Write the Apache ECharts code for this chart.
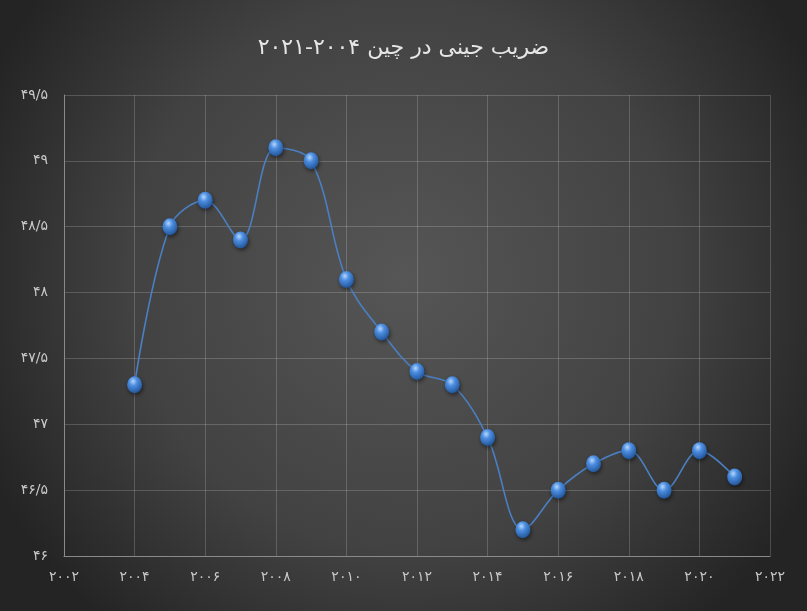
<!DOCTYPE html>
<html>
<head>
<meta charset="utf-8">
<script src="https://cdn.jsdelivr.net/npm/echarts@6/dist/echarts.min.js"></script>
<style>html,body{margin:0;padding:0;background:#333;}#c{width:807px;height:611px;}</style>
</head>
<body>
<div id="c"></div>
<script>
const titleText = 'ضریب جینی در چین ۲۰۰۴-۲۰۲۱';
const years = [2004,2005,2006,2007,2008,2009,2010,2011,2012,2013,2014,2015,2016,2017,2018,2019,2020,2021];
const gini = [47.3,48.5,48.7,48.4,49.1,49.0,48.1,47.7,47.4,47.3,46.9,46.2,46.5,46.7,46.8,46.5,46.8,46.6];
const yTicks = [46,46.5,47,47.5,48,48.5,49,49.5];

const fa = s => String(s).replace(/[0-9]/g, d => '۰۱۲۳۴۵۶۷۸۹'[d]).replace('.', '/');
const FONT = '"DejaVu Sans", "Noto Sans", sans-serif';

const chart = echarts.init(document.getElementById('c'));
chart.setOption({
  backgroundColor: {
    type: 'radial', x: 0.5, y: 0.45, r: 0.75,
    colorStops: [{offset: 0, color: '#565656'}, {offset: 0.6, color: '#424242'}, {offset: 1, color: '#242424'}]
  },
  title: {
    text: titleText, left: 'center', top: 32,
    textStyle: {color: '#e6e6e6', fontSize: 22, fontWeight: 'normal', fontFamily: FONT}
  },
  grid: {left: 64, right: 37, top: 95, bottom: 55},
  xAxis: {
    type: 'value', min: 2002, max: 2022, interval: 2,
    axisLine: {show: true, lineStyle: {color: '#8a8a8a', width: 1}},
    axisTick: {show: false},
    axisLabel: {color: '#c8c8c8', fontSize: 14, margin: 14, fontFamily: FONT, formatter: v => fa(v)},
    splitLine: {show: true, lineStyle: {color: 'rgba(255,255,255,0.18)', width: 1}}
  },
  yAxis: {
    type: 'value', min: yTicks[0], max: yTicks[yTicks.length - 1], interval: 0.5,
    axisLine: {show: true, lineStyle: {color: '#8a8a8a', width: 1}},
    axisTick: {show: false},
    axisLabel: {color: '#c8c8c8', fontSize: 14, margin: 16, fontFamily: FONT, formatter: v => fa(v)},
    splitLine: {show: true, lineStyle: {color: 'rgba(255,255,255,0.18)', width: 1}}
  },
  series: [{
    type: 'line',
    data: years.map((y, i) => [y, gini[i]]),
    smooth: 0.35,
    symbol: 'circle',
    symbolSize: [15, 17],
    lineStyle: {color: '#4a7fc1', width: 1.6},
    itemStyle: {
      color: {
        type: 'radial', x: 0.4, y: 0.3, r: 0.75,
        colorStops: [{offset: 0, color: '#b5d6ff'}, {offset: 0.35, color: '#4d8ee0'}, {offset: 1, color: '#1d4f93'}]
      },
      borderWidth: 0,
      shadowColor: 'rgba(0,0,0,0.5)', shadowBlur: 4, shadowOffsetX: 1, shadowOffsetY: 2
    },
    animation: false
  }]
});
</script>
</body>
</html>
